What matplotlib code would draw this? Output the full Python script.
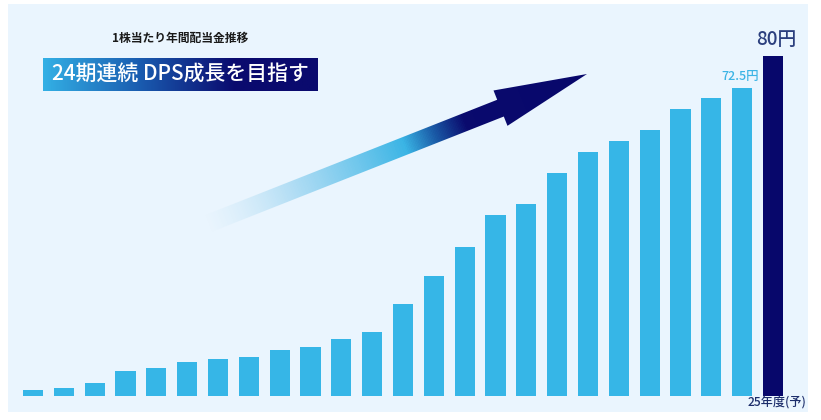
import numpy as np
import matplotlib.pyplot as plt
from matplotlib.colors import LinearSegmentedColormap
from matplotlib.patches import Polygon

plt.rcParams['font.family'] = ['Noto Sans CJK JP', 'DejaVu Sans']

# dividend per share (yen), 24 consecutive increases up to FY25 forecast
dps = [1.4, 1.7, 3.0, 5.8, 6.6, 7.9, 8.7, 9.1, 10.8, 11.5, 13.3, 15.0, 21.6,
       28.2, 35.0, 42.4, 45.0, 52.5, 57.4, 59.9, 62.5, 67.5, 70.0, 72.5, 80.0]
label_idx = [23, 24]
label_txt = ['72.5円', '80円']
last_label = '25年度(予)'
title = '1株当たり年間配当金推移'
banner = '24期連続 DPS成長を目指す'

W, H = 821, 420
fig = plt.figure(figsize=(W / 100, H / 100), dpi=100)
fig.patch.set_facecolor('white')

# light blue panel, bars in data units
pl, pr, pt, pb = 8, 808, 4, 412
ax = fig.add_axes([pl / W, 1 - pb / H, (pr - pl) / W, (pb - pt) / H])
ax.set_facecolor('#eaf5fe')
n = len(dps)
x = np.arange(n)
colors = ['#36b6e7'] * (n - 1) + ['#07076b']
ax.bar(x, dps, width=0.65, color=colors)
ax.set_xlim(-0.81, 25.135)
ax.set_ylim(-3.84, 92.16)
for s in ax.spines.values():
    s.set_visible(False)
ax.set_xticks([])
ax.set_yticks([])

ax.text(label_idx[0] - 0.05, dps[label_idx[0]] + 1.8, label_txt[0], ha='center',
        va='baseline', fontsize=9, color='#3bb4e5', fontweight='medium')
ax.text(label_idx[1] + 0.1, dps[label_idx[1]] + 2.5, label_txt[1], ha='center',
        va='baseline', fontsize=13.5, color='#2b3f7e', fontweight='medium')
ax.text(n - 1 + 0.13, -1.6, last_label, ha='center', va='center',
        fontsize=8.7, color='#1c2d6b', fontweight='medium')

# overlay in pixel coords for decorations
ov = fig.add_axes([0, 0, 1, 1])
ov.set_zorder(3)
ov.axis('off')

ov.text(180, 38, title, ha='center', va='center', fontsize=8.5,
        fontweight='bold', color='#1a1a1a')

# banner with horizontal gradient
bx0, bx1, by0, by1 = 43, 318, 58, 91
bcmap = LinearSegmentedColormap.from_list('bn', ['#33b0e5', '#1a5cb0', '#0a0a6e'])
grad = np.clip(np.linspace(0, 1, 300) / 0.7, 0, 1)[None, :]
ov.imshow(grad, cmap=bcmap, extent=(bx0, bx1, by1, by0), aspect='auto')
ov.text(52, (by0 + by1) / 2 + 0.5, banner, ha='left', va='center',
        fontsize=15, color='white', fontweight='medium')

# gradient arrow
c0 = np.array([207.0, 224.0])
tip = np.array([587.0, 74.0])
d = tip - c0
L = np.hypot(*d)
u = d / L
nv = np.array([-u[1], u[0]])
base = tip - 93 * u
hw, sw = 19, 9
pts = [c0 - sw * nv, base - sw * nv, base - hw * nv, tip,
       base + hw * nv, base + sw * nv, c0 + sw * nv]
poly = Polygon(pts, closed=True, facecolor='none', edgecolor='none')
ov.add_patch(poly)

acmap = LinearSegmentedColormap.from_list('ar', [
    (0.0, (0.80, 0.91, 0.97, 0.0)),
    (0.2, (0.70, 0.87, 0.96, 0.85)),
    (0.52, (0.23, 0.71, 0.90, 1.0)),
    (0.60, (0.10, 0.35, 0.65, 1.0)),
    (0.68, (0.04, 0.04, 0.43, 1.0)),
    (1.0, (0.03, 0.03, 0.42, 1.0)),
])
X, Y = np.meshgrid(np.arange(W) + 0.5, np.arange(H) + 0.5)
t = np.clip(((X - c0[0]) * u[0] + (Y - c0[1]) * u[1]) / L, 0, 1)
im = ov.imshow(acmap(t), extent=(0, W, H, 0), aspect='auto', interpolation='bilinear')
im.set_clip_path(poly)

ov.set_xlim(0, W)
ov.set_ylim(H, 0)

fig.savefig('out.png', dpi=100)
